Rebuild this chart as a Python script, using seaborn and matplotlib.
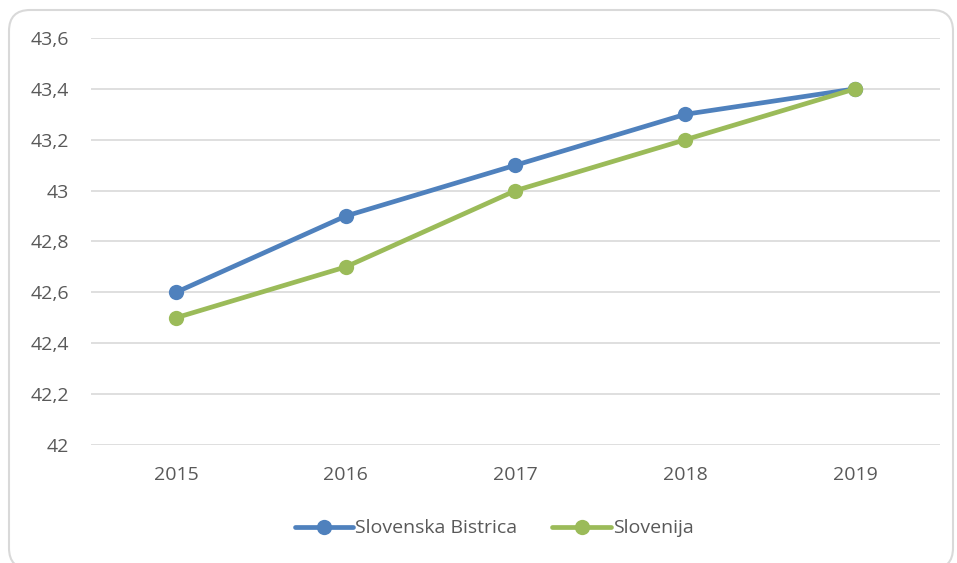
import numpy as np
import pandas as pd
import seaborn as sns
import matplotlib.pyplot as plt
from matplotlib.patches import FancyBboxPatch

years = ["2015", "2016", "2017", "2018", "2019"]
bistrica = [42.6, 42.9, 43.1, 43.3, 43.4]
slovenija = [42.5, 42.7, 43.0, 43.2, 43.4]
series_names = ["Slovenska Bistrica", "Slovenija"]
colors = ["#4F81BD", "#9BBB59"]

df = pd.DataFrame({
    "leto": years * 2,
    "vrednost": bistrica + slovenija,
    "serija": [series_names[0]] * len(years) + [series_names[1]] * len(years),
})

sns.set_style("white")
plt.rcParams["font.family"] = ["Open Sans", "DejaVu Sans"]
text_color = "#595959"
fs = 14

fig = plt.figure(figsize=(9.57, 5.63), dpi=100)
ax = fig.add_axes([0.0951, 0.2096, 0.8871, 0.7229])

sns.lineplot(data=df, x="leto", y="vrednost", hue="serija", palette=colors,
             marker="o", markersize=11, markeredgewidth=0, linewidth=3.4,
             sort=False, ax=ax)

ax.set_xlim(-0.5, 4.5)
ax.set_ylim(42, 43.6)
yticks = np.round(np.arange(42, 43.61, 0.2), 1)
ax.set_yticks(yticks)
ax.set_yticklabels([("%g" % v).replace(".", ",") for v in yticks])
ax.grid(axis="y", color="#d9d9d9", linewidth=1.2)
ax.set_axisbelow(True)
for s in ax.spines.values():
    s.set_visible(False)
ax.tick_params(axis="both", length=0, labelsize=fs, labelcolor=text_color)
ax.tick_params(axis="y", pad=16)
ax.tick_params(axis="x", pad=15)
ax.set_xlabel("")
ax.set_ylabel("")

ax.legend(loc="center", bbox_to_anchor=(0.475, -0.205), ncol=2, frameon=False,
          fontsize=fs, labelcolor=text_color, handlelength=3.0,
          handletextpad=0.1, columnspacing=1.8)

border = FancyBboxPatch((9 / 957, -6 / 563), 944 / 957, 559 / 563,
                        boxstyle="round,pad=0,rounding_size=0.022",
                        transform=fig.transFigure, fill=False,
                        edgecolor="#d9d9d9", linewidth=1.5,
                        mutation_aspect=957 / 563)
fig.patches.append(border)

fig.savefig("out.png", dpi=100)
